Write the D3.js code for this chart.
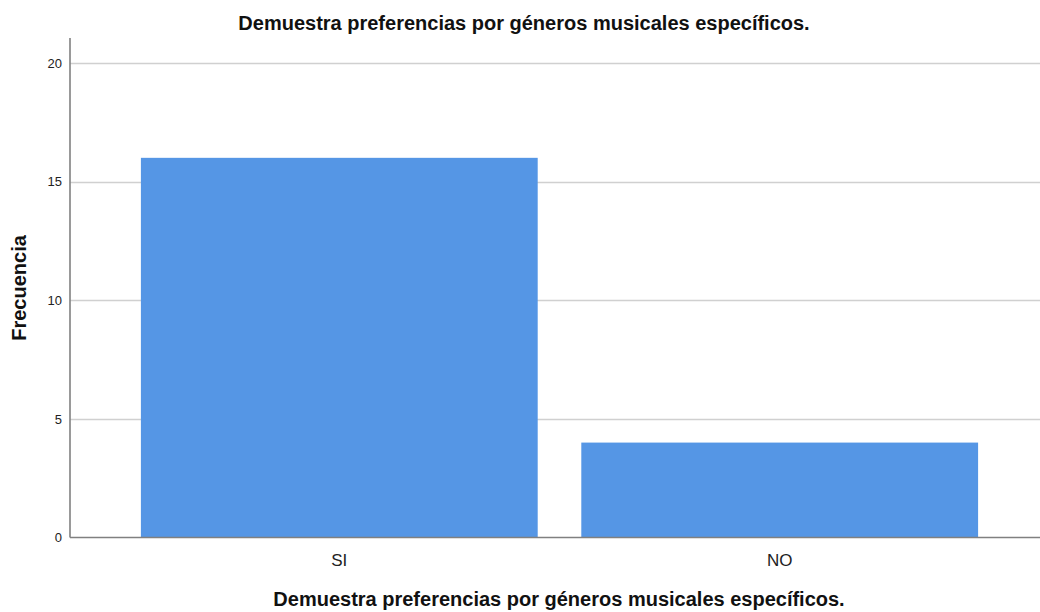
<!DOCTYPE html>
<html><head><meta charset="utf-8">
<script src="https://cdn.jsdelivr.net/npm/d3@7"></script>
<style>body{margin:0;background:#fff;} text{font-family:"Liberation Sans",Arial,sans-serif;}</style>
</head><body>
<svg id="c" width="1040" height="612"></svg>
<script>
const categories = ["SI", "NO"];
const values = [16, 4];
const yTicks = [0, 5, 10, 15, 20];
const title = "Demuestra preferencias por géneros musicales específicos.";
const xTitle = "Demuestra preferencias por géneros musicales específicos.";
const yTitle = "Frecuencia";

const svg = d3.select("#c");
const mLeft = 70, mRight = 1049, mTop = 38, mBottom = 537.5;
const y = d3.scaleLinear().domain([0, 21.05]).range([mBottom, mTop]);
const x = d3.scaleBand().domain(categories).range([mLeft, mRight]).paddingInner(0.099).paddingOuter(0.161);

// gridlines
svg.append("g").selectAll("line").data(yTicks.filter(d => d > 0)).join("line")
  .attr("x1", mLeft).attr("x2", 1040)
  .attr("y1", d => Math.round(y(d)) + 0.5).attr("y2", d => Math.round(y(d)) + 0.5)
  .attr("stroke", "#d0d0d0").attr("stroke-width", 1.6);

// bars
svg.append("g").selectAll("rect").data(values).join("rect")
  .attr("x", (d, i) => x(categories[i]))
  .attr("width", x.bandwidth())
  .attr("y", d => y(d))
  .attr("height", d => mBottom - y(d))
  .attr("fill", "#5596e5");

// y axis
const ya = svg.append("g").attr("transform", `translate(${mLeft},0)`)
  .call(d3.axisLeft(y).tickValues(yTicks).tickSize(0).tickPadding(8));
ya.select(".domain").attr("stroke", "#808080").attr("stroke-width", 1.6).attr("d", `M0,${mTop}V${mBottom}`);
ya.selectAll(".tick text").attr("font-size", 13).attr("fill", "#222").attr("font-family", "Liberation Sans, Arial, sans-serif");

// x axis
const xa = svg.append("g").attr("transform", `translate(0,${mBottom})`)
  .call(d3.axisBottom(x).tickSize(0).tickPadding(12));
xa.select(".domain").attr("stroke", "#808080").attr("stroke-width", 1.6).attr("d", `M${mLeft},0H1040`);
xa.selectAll(".tick text").attr("font-size", 17).attr("fill", "#222").attr("font-family", "Liberation Sans, Arial, sans-serif")
  .attr("dy", null).attr("y", 28.5);

// titles
svg.append("text").attr("x", 524).attr("y", 30).attr("text-anchor", "middle")
  .attr("font-size", 20).attr("font-weight", "bold").attr("fill", "#111").text(title);
svg.append("text").attr("x", 559).attr("y", 606).attr("text-anchor", "middle")
  .attr("font-size", 20).attr("font-weight", "bold").attr("fill", "#111").text(xTitle);
svg.append("text").attr("transform", "translate(26,288) rotate(-90)").attr("text-anchor", "middle")
  .attr("font-size", 20).attr("font-weight", "bold").attr("fill", "#111").text(yTitle);
</script>
</body></html>
